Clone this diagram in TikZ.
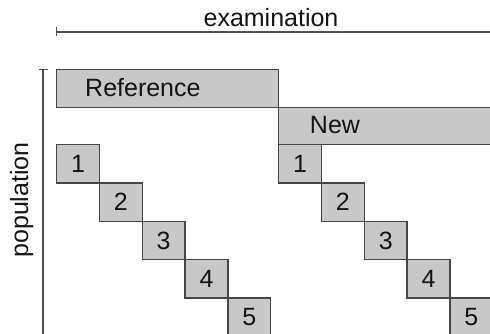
\documentclass[tikz,border=0pt]{standalone}
\usepackage{fontspec}
\setmainfont{Liberation Sans}
\usetikzlibrary{arrows.meta}
\definecolor{boxfill}{RGB}{200,200,200}
\definecolor{boxline}{RGB}{70,70,70}
\definecolor{axisline}{RGB}{80,80,80}
\definecolor{txt}{RGB}{20,20,20}
\begin{document}
\begin{tikzpicture}[x=1pt,y=-1pt,
  every node/.style={font=\fontsize{25}{29}\selectfont, text=txt},
  box/.style={draw=boxline, fill=boxfill, line width=1.4pt, rectangle, inner sep=0pt,
              anchor=north west, minimum width=42.8pt, minimum height=38.3pt},
  bar/.style={draw=boxline, fill=boxfill, line width=1.4pt, rectangle, inner sep=0pt,
              anchor=north west, minimum height=38pt},
  axis/.style={draw=axisline, line width=1.5pt, {Bar[width=9pt,line width=1.4pt]}-}]
\useasboundingbox (0,0) rectangle (490,334);
\clip (0,0) rectangle (490,334);
% axes
\coordinate (ex0) at (56,32);
\coordinate (ex1) at (492,32);
\draw[axis] (ex0) -- (ex1);
\node[anchor=base] (exlbl) at (271,27) {examination};
\coordinate (po0) at (43,69);
\coordinate (po1) at (43,336);
\draw[axis] (po0) -- (po1);
\node[rotate=90, anchor=base] (polbl) at (28,200) {population};
% reference / new bars
\node[bar, minimum width=222pt] (ref) at (56,69) {};
\node[anchor=base west, inner sep=0pt] (reflbl) at (85,97) {Reference};
\node[bar, minimum width=216pt, minimum height=37pt] (new) at (278,107) {};
\node[anchor=base] (newlbl) at (335,134) {New};
% staircase left
\foreach \i in {1,...,5}{
  \node[box] (a\i) at ({56+42.8*(\i-1)},{144+38.3*(\i-1)}) {\i};
}
% staircase right
\foreach \i in {1,...,5}{
  \node[box] (b\i) at ({278+42.8*(\i-1)},{144+38.3*(\i-1)}) {\i};
}
\end{tikzpicture}
\end{document}
